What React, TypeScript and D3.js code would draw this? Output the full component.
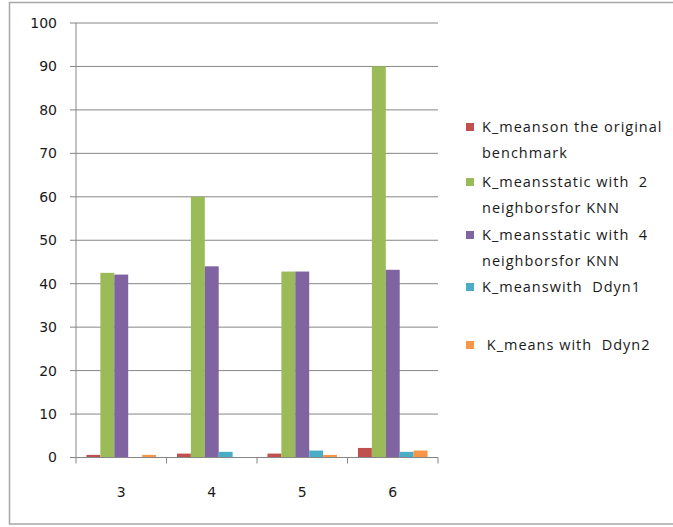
import * as d3 from 'd3';
import React, { useEffect, useRef } from 'react';

const categories = ['3', '4', '5', '6'];
const seriesNames = [
  'K_means on the original benchmark',
  'K_means static with 2 neighbors for KNN',
  'K_means static with 4 neighbors for KNN',
  'K_means with Ddyn1',
  'K_means with Ddyn2',
];
const legendLines = [
  ['K_meanson the original', 'benchmark'],
  ['K_meansstatic with  2', 'neighborsfor KNN'],
  ['K_meansstatic with  4', 'neighborsfor KNN'],
  ['K_meanswith  Ddyn1'],
  [' K_means with  Ddyn2'],
];
const colors = ['#C0504D', '#9BBB59', '#8064A2', '#4BACC6', '#F79646'];
const originalBench = [0.6, 0.9, 0.9, 2.2];
const static2 = [42.5, 60, 42.8, 90];
const static4 = [42.1, 44, 42.8, 43.2];
const ddyn1 = [0, 1.3, 1.6, 1.3];
const ddyn2 = [0.6, 0, 0.6, 1.6];
const yTicks = [0, 10, 20, 30, 40, 50, 60, 70, 80, 90, 100];

const series = [originalBench, static2, static4, ddyn1, ddyn2];

const App: React.FC = () => {
  const svgRef = useRef<SVGSVGElement | null>(null);

  useEffect(() => {
    const svg = d3.select(svgRef.current);
    const width = 673;
    const height = 527;
    const font = "'DejaVu Sans', Verdana, sans-serif";
    const legendFont = "'Open Sans', 'Liberation Sans', sans-serif";
    svg.attr('width', width).attr('height', height);
    svg.selectAll('*').remove();

    // outer frame
    svg
      .append('rect')
      .attr('x', 9.5)
      .attr('y', 2.5)
      .attr('width', 680)
      .attr('height', 521.5)
      .attr('fill', 'white')
      .attr('stroke', '#a6a6a6')
      .attr('stroke-width', 1.5);

    const plot = { left: 76, right: 438, top: 23, bottom: 457.5 };

    const x0 = d3.scaleBand().domain(categories).range([plot.left, plot.right]).paddingInner(0).paddingOuter(0);
    const inner = 5 * 1 + 1.5;
    const x1 = d3
      .scaleBand<number>()
      .domain(d3.range(5))
      .range([x0.bandwidth() * (0.75 / inner), x0.bandwidth() * (1 - 0.75 / inner)]);
    const y = d3.scaleLinear().domain([0, 100]).range([plot.bottom, plot.top]);

    // gridlines
    svg
      .append('g')
      .selectAll('line')
      .data(yTicks)
      .join('line')
      .attr('x1', plot.left - 6)
      .attr('x2', plot.right)
      .attr('y1', (d) => y(d))
      .attr('y2', (d) => y(d))
      .attr('stroke', '#868686')
      .attr('stroke-width', 1);

    svg
      .append('g')
      .selectAll('text')
      .data(yTicks)
      .join('text')
      .attr('x', 57)
      .attr('y', (d) => y(d))
      .attr('dy', '0.35em')
      .attr('text-anchor', 'end')
      .attr('font-family', font)
      .attr('font-size', 14)
      .attr('fill', '#1a1a1a')
      .text((d) => d);

    // bars
    const groups = svg
      .append('g')
      .selectAll('g')
      .data(categories)
      .join('g')
      .attr('transform', (d) => `translate(${x0(d)},0)`);
    groups
      .selectAll('rect')
      .data((_, i) => series.map((s, k) => ({ k, v: s[i] })))
      .join('rect')
      .attr('x', (d) => x1(d.k)!)
      .attr('width', x1.bandwidth())
      .attr('y', (d) => y(d.v))
      .attr('height', (d) => y(0) - y(d.v))
      .attr('fill', (d) => colors[d.k]);

    // axes
    svg
      .append('line')
      .attr('x1', plot.left)
      .attr('x2', plot.left)
      .attr('y1', plot.top)
      .attr('y2', plot.bottom)
      .attr('stroke', '#868686');
    svg
      .append('line')
      .attr('x1', plot.left)
      .attr('x2', plot.right)
      .attr('y1', plot.bottom)
      .attr('y2', plot.bottom)
      .attr('stroke', '#868686');
    const boundaries = categories.map((c) => x0(c)!).concat([plot.right]);
    svg
      .append('g')
      .selectAll('line')
      .data(boundaries)
      .join('line')
      .attr('x1', (d) => d)
      .attr('x2', (d) => d)
      .attr('y1', plot.bottom)
      .attr('y2', plot.bottom + 6)
      .attr('stroke', '#868686');
    svg
      .append('g')
      .selectAll('text')
      .data(categories)
      .join('text')
      .attr('x', (d) => x0(d)! + x0.bandwidth() / 2)
      .attr('y', 492)
      .attr('dy', '0.35em')
      .attr('text-anchor', 'middle')
      .attr('font-family', font)
      .attr('font-size', 14)
      .attr('fill', '#1a1a1a')
      .text((d) => d);

    // legend
    const legendTop = [127, 182, 235, 287, 345];
    const legend = svg
      .append('g')
      .selectAll('g')
      .data(seriesNames)
      .join('g')
      .attr('transform', (_, i) => `translate(466,${legendTop[i]})`);
    legend
      .append('rect')
      .attr('x', 0)
      .attr('y', -4)
      .attr('width', 8)
      .attr('height', 8)
      .attr('fill', (_, i) => colors[i]);
    legend
      .selectAll('text')
      .data((_, i) => legendLines[i])
      .join('text')
      .attr('x', 16)
      .attr('y', (_, j) => j * 26)
      .attr('dy', '0.35em')
      .attr('font-family', legendFont)
      .attr('font-size', 14.5)
      .attr('letter-spacing', 1)
      .attr('fill', '#1a1a1a')
      .style('white-space', 'pre')
      .text((d) => d);
  }, []);

  return (
    <div style={{ position: 'absolute', left: 0, top: 0 }}>
      <svg ref={svgRef}></svg>
    </div>
  );
};

export default App;
